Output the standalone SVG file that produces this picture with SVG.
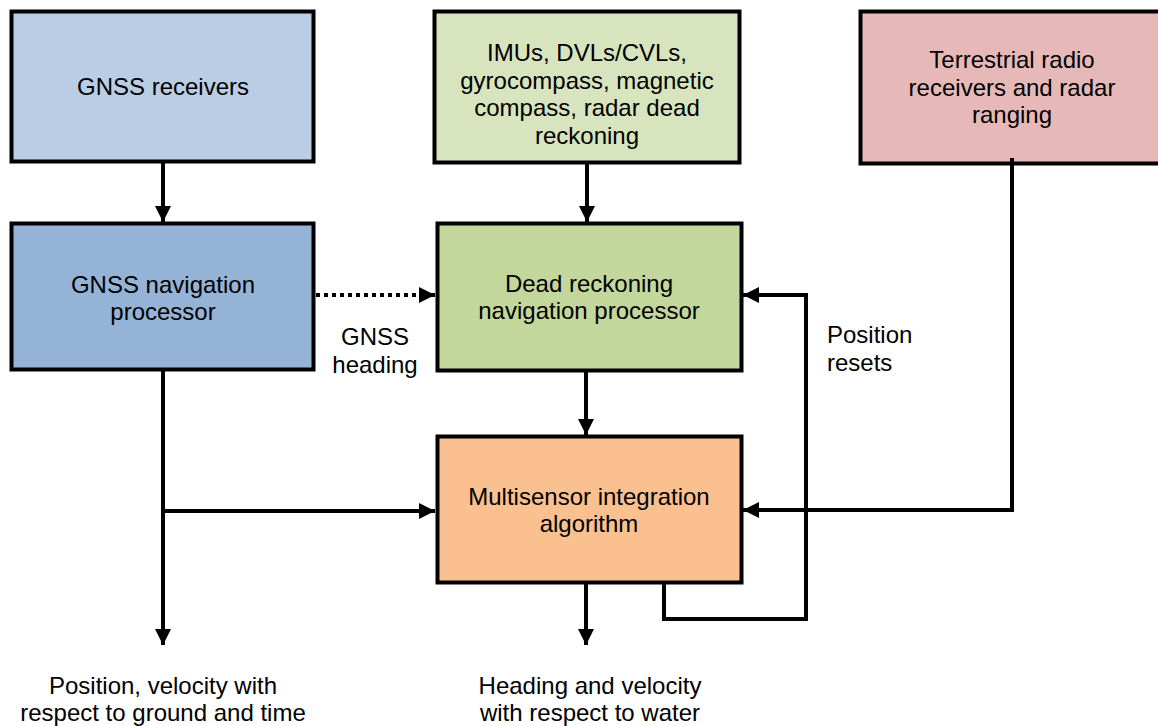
<svg xmlns="http://www.w3.org/2000/svg" width="1158" height="726" viewBox="0 0 1158 726">
<defs>
<style>
.box{stroke:#000;stroke-width:4}
.t{font-family:"Liberation Sans",Arial,sans-serif;font-size:24px;fill:#000;text-anchor:middle}
.tl{font-family:"Liberation Sans",Arial,sans-serif;font-size:24px;fill:#000}
.c{fill:none;stroke:#000;stroke-width:4}
.d{fill:none;stroke:#000;stroke-width:4;stroke-dasharray:4 4}
</style>
<marker id="ah" viewBox="0 0 10 10" refX="10" refY="5" markerWidth="4" markerHeight="4" markerUnits="strokeWidth" orient="auto">
<path d="M0,0 L10,5 L0,10 z" fill="#000"/>
</marker>
</defs>
<rect width="1158" height="726" fill="#fff"/>
<g id="gnss-receivers">
<rect class="box" x="11.5" y="11.5" width="302" height="150" fill="#B9CDE5"/>
<text class="t" x="163" y="95">GNSS receivers</text>
</g>
<g id="gnss-processor">
<rect class="box" x="11.5" y="223.5" width="302" height="146" fill="#95B3D7"/>
<text class="t" x="163" y="293">GNSS navigation</text>
<text class="t" x="163" y="320">processor</text>
</g>
<g id="dr-sensors">
<rect class="box" x="434.5" y="11.5" width="305" height="151" fill="#D7E4BD"/>
<text class="t" x="587" y="61">IMUs, DVLs/CVLs,</text>
<text class="t" x="587" y="89">gyrocompass, magnetic</text>
<text class="t" x="587" y="116">compass, radar dead</text>
<text class="t" x="587" y="144">reckoning</text>
</g>
<g id="terrestrial">
<rect class="box" x="860.5" y="11.5" width="304" height="152" fill="#E6B9B8"/>
<text class="t" x="1012" y="68">Terrestrial radio</text>
<text class="t" x="1012" y="96">receivers and radar</text>
<text class="t" x="1012" y="123">ranging</text>
</g>
<g id="dr-processor">
<rect class="box" x="437.5" y="223.5" width="304" height="147" fill="#C3D69B"/>
<text class="t" x="589" y="292">Dead reckoning</text>
<text class="t" x="589" y="319">navigation processor</text>
</g>
<g id="multisensor">
<rect class="box" x="437.5" y="436.5" width="304" height="146" fill="#FAC090"/>
<text class="t" x="589" y="505">Multisensor integration</text>
<text class="t" x="589" y="532">algorithm</text>
</g>
<g id="labels">
<text class="t" x="375" y="345">GNSS</text>
<text class="t" x="375" y="373">heading</text>
<text class="tl" x="827" y="343">Position</text>
<text class="tl" x="827" y="371">resets</text>
<text class="t" x="163" y="694">Position, velocity with</text>
<text class="t" x="163" y="721">respect to ground and time</text>
<text class="t" x="590" y="694">Heading and velocity</text>
<text class="t" x="590" y="721">with respect to water</text>
</g>
<g id="connectors">
<path class="c" d="M163,162 V222" marker-end="url(#ah)"/>
<path class="c" d="M587,163 V222" marker-end="url(#ah)"/>
<path class="d" d="M316,295 H420"/>
<path class="c" d="M420,295 H435" marker-end="url(#ah)"/>
<path class="c" d="M163,370 V645" marker-end="url(#ah)"/>
<path class="c" d="M163,511 H435" marker-end="url(#ah)"/>
<path class="c" d="M586,371 V435" marker-end="url(#ah)"/>
<path class="c" d="M586,583 V645" marker-end="url(#ah)"/>
<path class="c" d="M664,583 V619 H806 V295 H743" marker-end="url(#ah)"/>
<path class="c" d="M1012,158 V510 H743" marker-end="url(#ah)"/>
</g>
</svg>
